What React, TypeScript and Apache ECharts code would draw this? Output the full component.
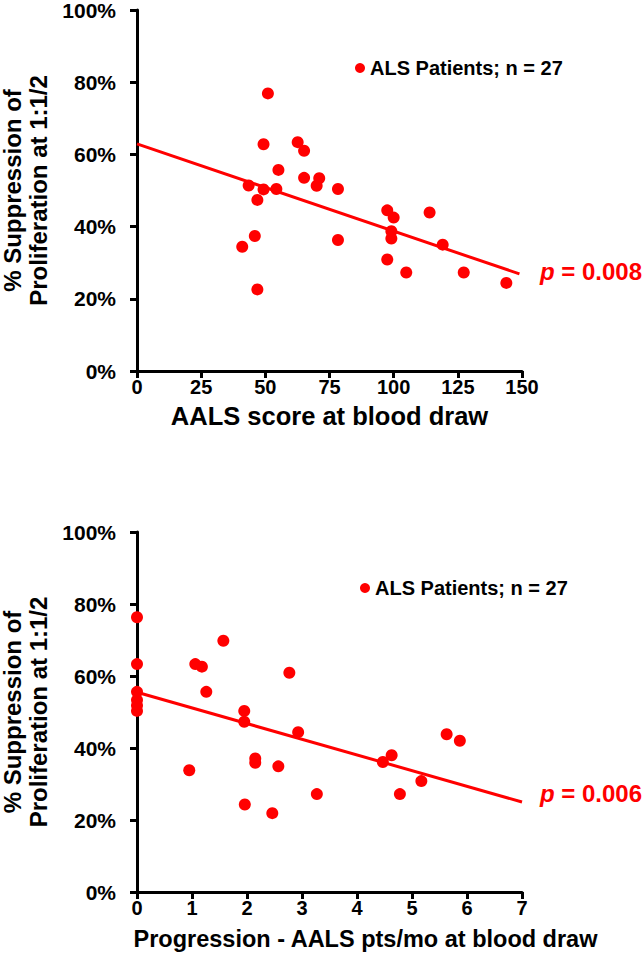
import React, { useEffect, useRef } from "react";
import * as echarts from "echarts";

const FONT = "'Liberation Sans', Arial, sans-serif";
const RED = "#ff0000";

// Top chart: AALS score vs % suppression
const aalsScore = [51.0, 49.3, 62.6, 65.1, 55.1, 43.5, 49.3, 54.3, 46.9, 65.1, 71.0, 70.0, 78.3, 45.9, 41.0, 78.3, 46.9, 97.5, 100.0, 99.1, 99.1, 114.0, 119.1, 97.5, 104.9, 127.3, 143.9];
const suppressionTop = [76.9, 62.8, 63.4, 61.0, 55.7, 51.4, 50.3, 50.4, 47.4, 53.5, 53.4, 51.3, 50.4, 37.4, 34.4, 36.3, 22.6, 44.5, 42.5, 38.7, 36.7, 43.9, 35.0, 30.9, 27.3, 27.3, 24.4];
const fitTopX = [0, 149];
const fitTopY = [62.9, 26.9];

// Bottom chart: progression vs % suppression
const progression = [0, 0, 0, 0, 0, 0, 1.06, 1.18, 1.57, 1.26, 1.95, 1.95, 2.77, 2.93, 5.63, 5.87, 4.63, 4.47, 5.17, 3.27, 4.78, 2.15, 2.15, 0.95, 2.57, 1.96, 2.46];
const suppressionBottom = [76.3, 63.3, 55.6, 53.3, 51.8, 50.3, 63.3, 62.6, 69.8, 55.6, 50.3, 47.3, 60.9, 44.4, 43.8, 42.0, 38.0, 36.1, 30.8, 27.2, 27.2, 37.1, 35.9, 33.8, 34.9, 24.3, 21.9];
const fitBottomX = [0, 7];
const fitBottomY = [55.5, 25.0];

const yTicks = [0, 20, 40, 60, 80, 100];
const seriesName = "ALS Patients; n = 27";
const yTitle = "% Suppression of\nProliferation at 1:1/2";
const xTitleTop = "AALS score at blood draw";
const xTitleBottom = "Progression - AALS pts/mo at blood draw";
const pTop = "0.008";
const pBottom = "0.006";

const zip = (a: number[], b: number[]) => a.map((v, i) => [v, b[i]]);

export default function App() {
  const ref = useRef<HTMLDivElement>(null);
  useEffect(() => {
    if (!ref.current) return;
    const chart = echarts.init(ref.current, null, { renderer: "svg" });
    const axisLine = { show: true, lineStyle: { color: "#000", width: 3 } };
    const axisTick = { show: true, length: 7, lineStyle: { color: "#000", width: 3 } };
    const labelStyle = { color: "#000", fontSize: 20, fontWeight: "bold" as const, fontFamily: FONT };
    const nameStyle = { color: "#000", fontSize: 23.5, fontWeight: "bold" as const, fontFamily: FONT };
    const yNameStyle = { color: "#000", fontSize: 24, fontWeight: "bold" as const, fontFamily: FONT, lineHeight: 26 };
    const yAxisBase = (gridIndex: number) => ({
      type: "value" as const,
      gridIndex,
      min: yTicks[0],
      max: yTicks[yTicks.length - 1],
      interval: 20,
      axisLine,
      axisTick,
      splitLine: { show: false },
      axisLabel: { ...labelStyle, fontSize: 21, margin: 21, formatter: "{value}%" },
      name: yTitle,
      nameLocation: "middle" as const,
      nameGap: 86,
      nameTextStyle: yNameStyle,
    });
    chart.setOption({
      animation: false,
      backgroundColor: "#fff",
      grid: [
        { left: 137, top: 10, width: 385, height: 361, outerBoundsMode: "none", containLabel: false },
        { left: 137, top: 532, width: 385, height: 360, outerBoundsMode: "none", containLabel: false },
      ],
      xAxis: [
        {
          type: "value",
          gridIndex: 0,
          min: 0,
          max: 150,
          interval: 25,
          axisLine,
          axisTick,
          splitLine: { show: false },
          axisLabel: { ...labelStyle, margin: 6 },
          name: xTitleTop,
          nameLocation: "middle",
          nameGap: 32,
          nameTextStyle: { ...nameStyle, fontSize: 25.5 },
        },
        {
          type: "value",
          gridIndex: 1,
          min: 0,
          max: 7,
          interval: 1,
          axisLine,
          axisTick,
          splitLine: { show: false },
          axisLabel: { ...labelStyle, margin: 6 },
          name: xTitleBottom,
          nameLocation: "middle",
          nameGap: 35,
          nameTextStyle: { ...nameStyle, padding: [0, 0, 0, 72] },
        },
      ],
      yAxis: [yAxisBase(0), yAxisBase(1)],
      legend: [
        {
          left: 350,
          top: 53,
          icon: "circle",
          itemWidth: 10,
          itemHeight: 10,
          selectedMode: false,
          data: [seriesName],
          textStyle: { color: "#000", fontSize: 20, fontWeight: "bold", fontFamily: FONT },
        },
        {
          left: 355,
          top: 573,
          icon: "circle",
          itemWidth: 10,
          itemHeight: 10,
          selectedMode: false,
          data: [seriesName],
          textStyle: { color: "#000", fontSize: 20, fontWeight: "bold", fontFamily: FONT },
        },
      ],
      series: [
        {
          type: "scatter",
          name: seriesName,
          xAxisIndex: 0,
          yAxisIndex: 0,
          symbolSize: 12,
          clip: false,
          itemStyle: { color: RED, opacity: 1 },
          data: zip(aalsScore, suppressionTop),
          z: 5,
        },
        {
          type: "line",
          xAxisIndex: 0,
          yAxisIndex: 0,
          showSymbol: false,
          symbol: "none",
          lineStyle: { color: RED, width: 3 },
          data: zip(fitTopX, fitTopY),
          z: 4,
        },
        {
          type: "scatter",
          name: seriesName,
          xAxisIndex: 1,
          yAxisIndex: 1,
          symbolSize: 12,
          clip: false,
          itemStyle: { color: RED, opacity: 1 },
          data: zip(progression, suppressionBottom),
          z: 5,
        },
        {
          type: "line",
          xAxisIndex: 1,
          yAxisIndex: 1,
          showSymbol: false,
          symbol: "none",
          lineStyle: { color: RED, width: 3 },
          data: zip(fitBottomX, fitBottomY),
          z: 4,
        },
      ],
      graphic: [
        {
          type: "text",
          left: 540,
          top: 259,
          style: {
            text: "{i|p} = " + pTop,
            fill: RED,
            font: `bold 24px ${FONT}`,
            rich: { i: { fontStyle: "italic", fontWeight: "bold", fontSize: 24, fontFamily: FONT, fill: RED } },
          },
        },
        {
          type: "text",
          left: 540,
          top: 781,
          style: {
            text: "{i|p} = " + pBottom,
            fill: RED,
            font: `bold 24px ${FONT}`,
            rich: { i: { fontStyle: "italic", fontWeight: "bold", fontSize: 24, fontFamily: FONT, fill: RED } },
          },
        },
      ],
    });
    return () => chart.dispose();
  }, []);
  return (
    <div
      ref={ref}
      style={{ position: "fixed", left: 0, top: 0, width: 644, height: 966, background: "#fff" }}
    />
  );
}
